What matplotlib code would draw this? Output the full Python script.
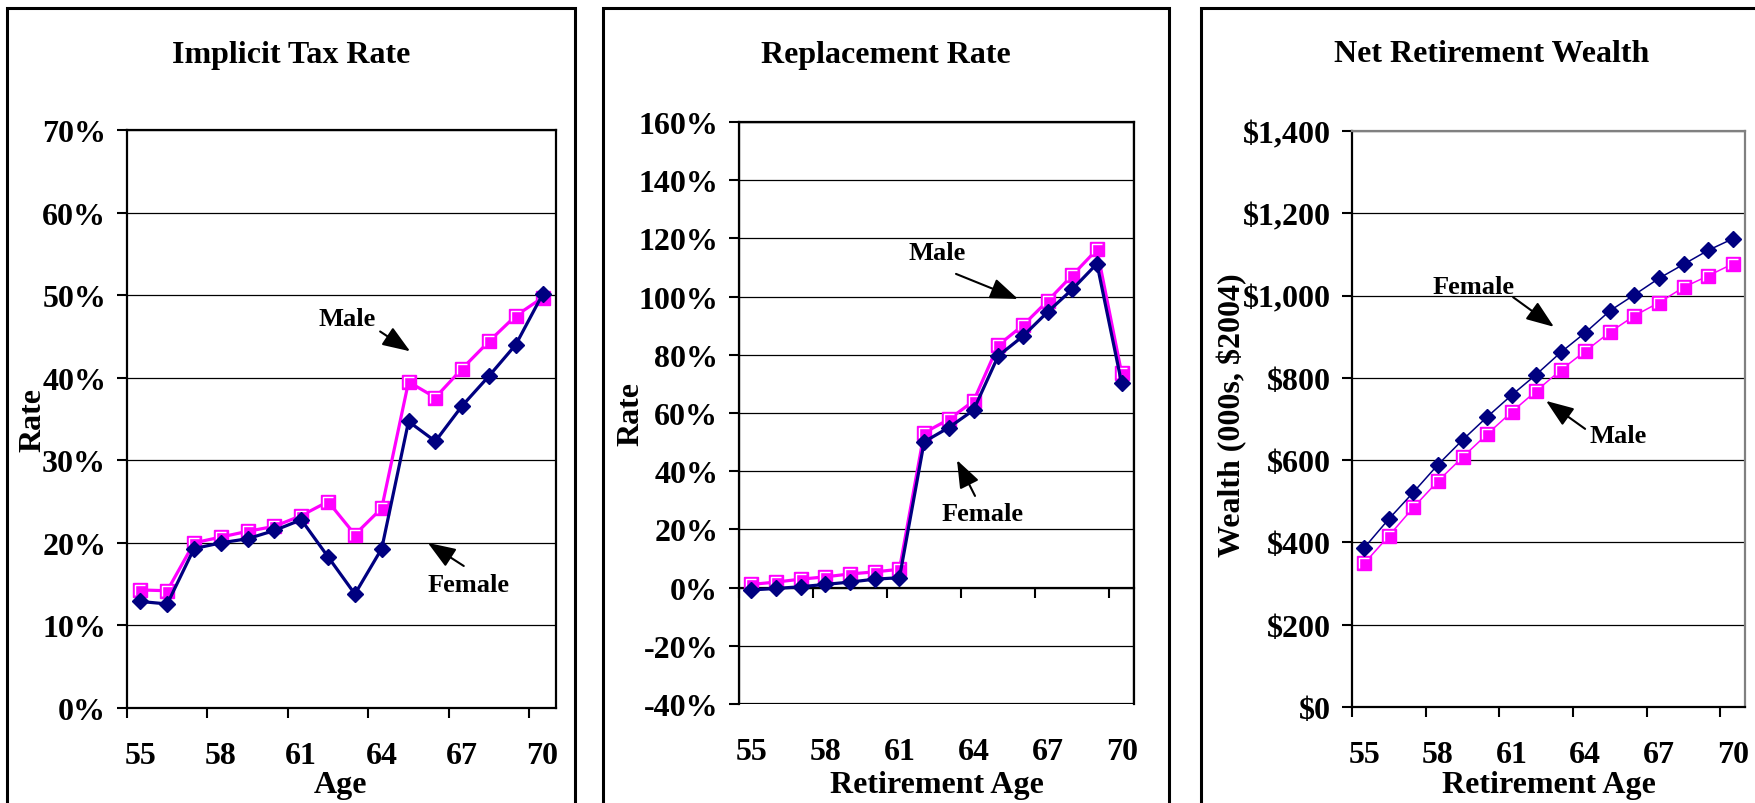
import numpy as np
import matplotlib
matplotlib.use("Agg")
import matplotlib.pyplot as plt
import matplotlib.ticker as ticker
from matplotlib.patches import Rectangle
from matplotlib.path import Path

plt.rcParams['font.family'] = ['Liberation Serif', 'DejaVu Serif']
plt.rcParams['font.weight'] = 'bold'

# data
ages = list(range(55, 71))
age_labels = ['55', '58', '61', '64', '67', '70']

male_tax = [14.3, 14.2, 20.0, 20.7, 21.4, 22.0, 23.3, 25.0, 21.0, 24.2, 39.5, 37.6, 41.1, 44.4, 47.5, 49.7]
female_tax = [12.9, 12.6, 19.3, 20.0, 20.5, 21.5, 22.8, 18.3, 13.8, 19.3, 34.7, 32.3, 36.6, 40.2, 44.0, 50.1]

male_repl = [1.1, 1.9, 2.9, 3.7, 4.7, 5.4, 6.3, 53.2, 57.8, 64.1, 83.3, 90.1, 98.5, 107.3, 116.2, 73.6]
female_repl = [-0.8, -0.3, 0.3, 1.1, 1.9, 2.9, 3.4, 50.1, 55.0, 61.0, 79.6, 86.4, 94.7, 102.5, 111.3, 70.2]

male_wealth = [349, 416, 485, 549, 607, 663, 717, 768, 819, 865, 911, 951, 983, 1020, 1048, 1077]
female_wealth = [387, 457, 522, 589, 649, 705, 758, 808, 862, 910, 963, 1002, 1042, 1076, 1110, 1138]

NAVY = '#000080'
PINK = '#FF00FF'
W, H = 1756, 804
FS = 23
AFS = 19

fig = plt.figure(figsize=(W / 100, H / 100), dpi=100)

# panel frames (pixels: left, right)
for x0, x1 in [(7, 575), (603, 1169), (1201, 1800)]:
    fig.add_artist(Rectangle((x0 / W, -0.1), (x1 - x0) / W, (H - 9) / H + 0.1,
                             transform=fig.transFigure, fill=False,
                             ec='black', lw=2.2))

hl_path = Path([(-1, -1), (-1, 1), (1, 1)])


def make_axes(px_left, px_right, px_top, px_bottom):
    return fig.add_axes([px_left / W, (H - px_bottom) / H,
                         (px_right - px_left) / W, (px_bottom - px_top) / H])


def draw_panel(ax, male, female, lw, ylim, ystep, fmt, zero_axis=False, gray_box=False):
    x = np.arange(len(ages))
    ax.plot(x, male, color=PINK, lw=lw, marker='s', ms=10, mfc=PINK, mec=PINK, zorder=3)
    ax.plot(x, male, ls='none', marker=hl_path, ms=6.5, mfc='none', mec='white', mew=1, zorder=3)
    ax.plot(x, female, color=NAVY, lw=lw, marker='D', ms=8.5, mfc=NAVY, mec=NAVY, zorder=4)

    ax.set_xlim(-0.5, len(ages) - 0.5)
    ax.set_ylim(*ylim)
    ax.yaxis.set_major_locator(ticker.MultipleLocator(ystep))
    ax.yaxis.set_major_formatter(ticker.FuncFormatter(fmt))
    ax.yaxis.grid(True, color='black', lw=0.9)
    ax.set_axisbelow(True)

    # tick marks between categories, labels under every third category
    ax.set_xticks(np.arange(-0.5, len(ages), 3))
    ax.set_xticklabels([])
    ax.tick_params(axis='x', direction='out', length=7, width=1.5)
    ax.tick_params(axis='y', direction='out', length=7, width=1.5, pad=8, labelsize=FS)
    sec = ax.secondary_xaxis('bottom')
    sec.set_xticks(np.arange(0, len(ages), 3), labels=age_labels)
    sec.tick_params(length=0, pad=24, labelsize=FS)
    sec.spines['bottom'].set_visible(False)

    for s in ax.spines.values():
        s.set_linewidth(1.6)
        s.set_color('black')
    if gray_box:
        ax.spines['top'].set_color('#808080')
        ax.spines['right'].set_color('#808080')
    if zero_axis:
        ax.spines['bottom'].set_position(('data', 0))
        ax.add_patch(Rectangle((0, 0), 1, 1, transform=ax.transAxes, fill=False,
                               ec='black', lw=1.6, zorder=2.5))


def arrow(ax, start, end):
    ax.annotate('', xy=end, xytext=start,
                arrowprops=dict(arrowstyle='-|>,head_length=0.85,head_width=0.32',
                                color='black', lw=1.5, shrinkA=0, shrinkB=0,
                                mutation_scale=20))


pct = lambda v, p: '%d%%' % v
dollars = lambda v, p: '${:,.0f}'.format(v)

# Implicit Tax Rate
ax1 = make_axes(127, 556, 131, 709)
draw_panel(ax1, male_tax, female_tax, 2.3, (0, 70), 10, pct)
ax1.text(7.71, 47.2, 'Male', ha='center', va='center', fontsize=AFS)
arrow(ax1, (8.94, 45.6), (10.06, 43.2))
ax1.text(12.25, 14.9, 'Female', ha='center', va='center', fontsize=AFS)
arrow(ax1, (12.06, 17.2), (10.72, 20.0))

# Replacement Rate
ax2 = make_axes(739, 1134, 123, 705)
draw_panel(ax2, male_repl, female_repl, 2.3, (-40, 160), 20, pct, zero_axis=True)
ax2.text(7.52, 115.3, 'Male', ha='center', va='center', fontsize=AFS)
arrow(ax2, (8.29, 107.8), (10.8, 99.2))
ax2.text(9.38, 25.3, 'Female', ha='center', va='center', fontsize=AFS)
arrow(ax2, (9.06, 31.5), (8.33, 43.8))

# Net Retirement Wealth
ax3 = make_axes(1352, 1745, 132, 708)
draw_panel(ax3, male_wealth, female_wealth, 1.1, (0, 1400), 200, dollars, gray_box=True)
ax3.text(4.43, 1023, 'Female', ha='center', va='center', fontsize=AFS)
arrow(ax3, (6.06, 996), (7.72, 924))
ax3.text(10.33, 659, 'Male', ha='center', va='center', fontsize=AFS)
arrow(ax3, (8.99, 676), (7.40, 744))

# titles and axis labels (figure pixel positions)
def ftext(px, py, s, **kw):
    fig.text(px / W, (H - py) / H, s, ha='center', va='center', fontsize=FS, **kw)

ftext(291, 55, 'Implicit Tax Rate')
ftext(886, 55, 'Replacement Rate')
ftext(1492, 55, 'Net Retirement Wealth')
ftext(33, 420, 'Rate', rotation=90)
ftext(631, 414, 'Rate', rotation=90)
ftext(1232, 415, 'Wealth (000s, $2004)', rotation=90)
ftext(341, 786, 'Age')
ftext(937, 786, 'Retirement Age')
ftext(1549, 786, 'Retirement Age')

fig.savefig('out.png', dpi=100)
